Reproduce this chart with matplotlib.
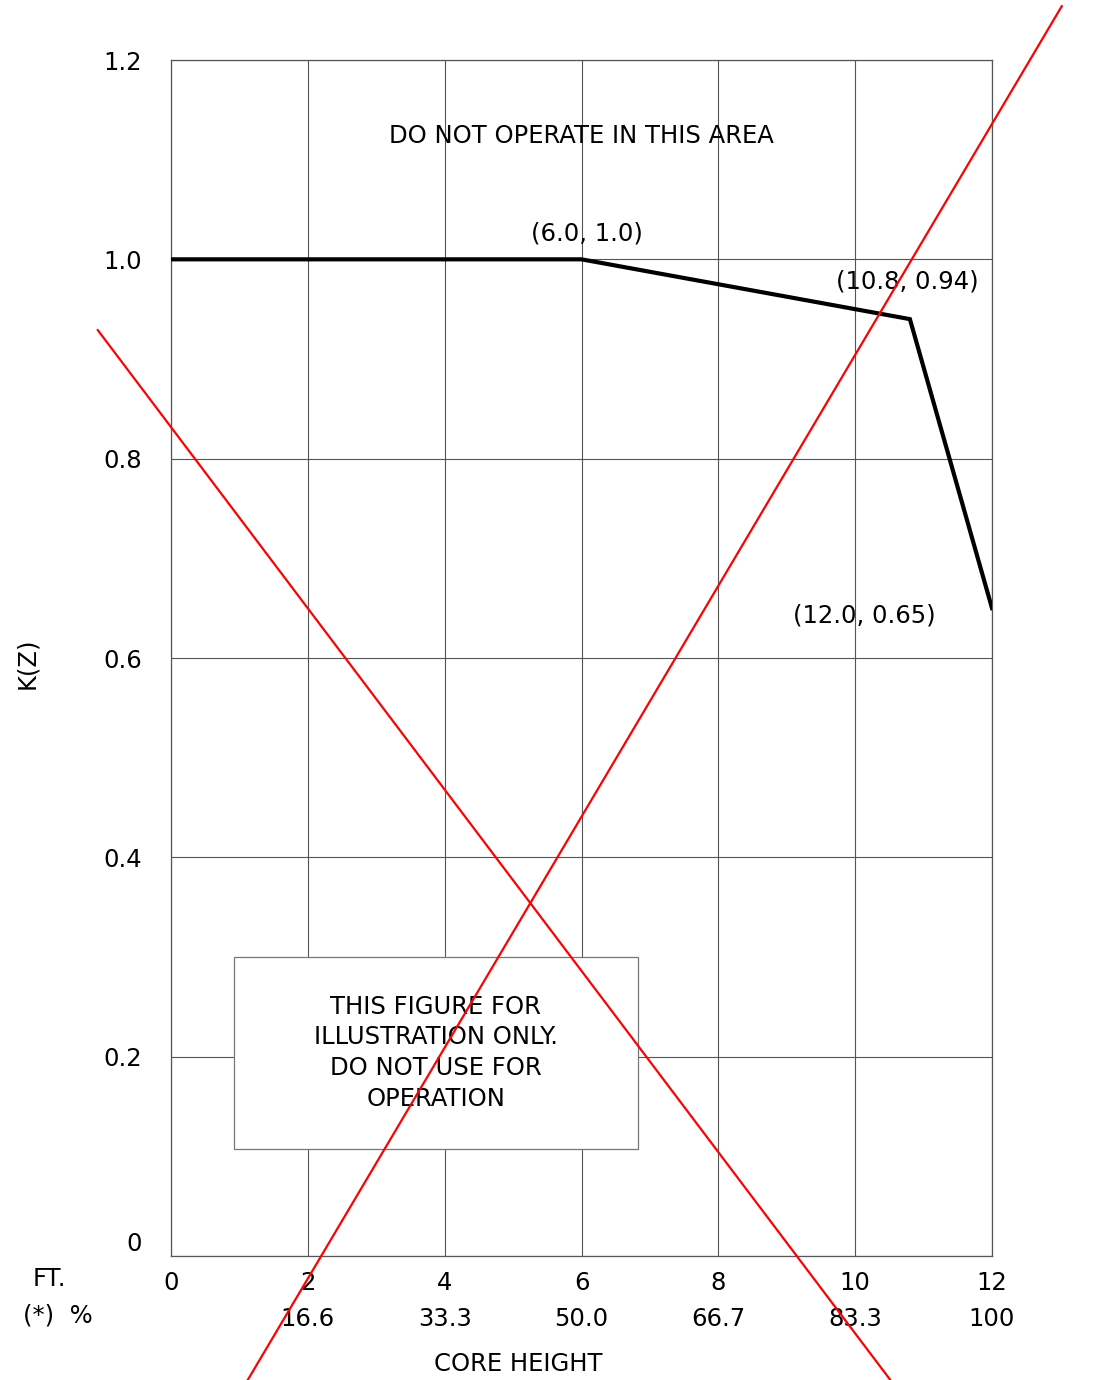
import matplotlib.pyplot as plt
from matplotlib.patches import Rectangle

# K(Z) curve
core_ft = [0.0, 6.0, 10.8, 12.0]
kz = [1.0, 1.0, 0.94, 0.65]

x_ticks = [0, 2, 4, 6, 8, 10, 12]
x_pct = ["", "16.6", "33.3", "50.0", "66.7", "83.3", "100"]
y_ticks = [0, 0.2, 0.4, 0.6, 0.8, 1.0, 1.2]
y_labels = ["0", "0.2", "0.4", "0.6", "0.8", "1.0", "1.2"]

# red "X" crossing out the figure (data coords, runs past the axes)
cross1_x = [-1.07, 10.51]
cross1_y = [0.929, -0.124]
cross2_x = [1.125, 13.02]
cross2_y = [-0.124, 1.254]

plt.rcParams['font.family'] = ['DejaVu Sans']
fs = 17.5

fig = plt.figure(figsize=(11.11, 13.8), dpi=100)
ax = fig.add_axes([171/1111, 1 - 1256/1380, 821/1111, 1196/1380])
ax.set_xlim(0, 12)
ax.set_ylim(0, 1.2)

ax.set_xticks(x_ticks)
ax.set_xticklabels([str(v) for v in x_ticks], fontsize=fs)
ax.set_yticks(y_ticks)
ax.set_yticklabels(y_labels, fontsize=fs)
ax.tick_params(length=0)
ax.tick_params(axis='x', pad=11)
ax.tick_params(axis='y', pad=21)
ax.get_yticklabels()[0].set_va('bottom')
ax.grid(True, color='#555555', linewidth=0.8)
for s in ax.spines.values():
    s.set_color('#555555')
    s.set_linewidth(0.9)

ax.plot(core_ft, kz, color='black', linewidth=3, solid_joinstyle='miter', zorder=3)

# percent row under the feet labels
for xv, p in zip(x_ticks, x_pct):
    ax.text(xv, -0.063, p, fontsize=fs, ha='center', va='center')
ax.text(-1.78, -0.023, "FT.", fontsize=fs, ha='center', va='center')
ax.text(-1.65, -0.060, "(*)  %", fontsize=fs, ha='center', va='center')
ax.text(5.07, -0.108, "CORE HEIGHT", fontsize=fs, ha='center', va='center')
ax.text(-2.1, 0.595, "K(Z)", fontsize=fs, ha='center', va='center', rotation=90)

ax.text(6.0, 1.124, "DO NOT OPERATE IN THIS AREA", fontsize=fs, ha='center', va='center')
ax.text(6.08, 1.026, "(6.0, 1.0)", fontsize=fs, ha='center', va='center')
ax.text(10.76, 0.978, "(10.8, 0.94)", fontsize=fs, ha='center', va='center')
ax.text(10.14, 0.643, "(12.0, 0.65)", fontsize=fs, ha='center', va='center')

ax.add_patch(Rectangle((0.92, 0.107), 5.91, 0.193, facecolor='white',
                       edgecolor='#777777', linewidth=0.9, zorder=2))
ax.text(3.87, 0.204, "THIS FIGURE FOR\nILLUSTRATION ONLY.\nDO NOT USE FOR\nOPERATION",
        fontsize=fs, ha='center', va='center', linespacing=1.35, zorder=4)

ax.plot(cross1_x, cross1_y, color='red', linewidth=1.6, clip_on=False, zorder=5)
ax.plot(cross2_x, cross2_y, color='red', linewidth=1.6, clip_on=False, zorder=5)

fig.savefig("out.png", dpi=100, facecolor='white')
